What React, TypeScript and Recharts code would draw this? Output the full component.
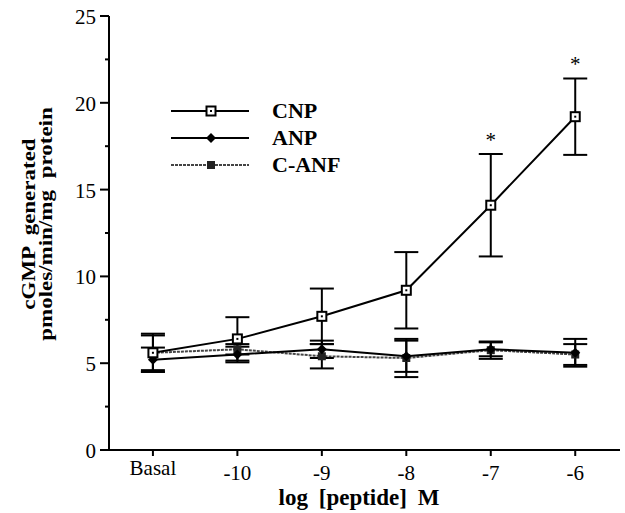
import { LineChart, Line, XAxis, YAxis, ErrorBar, Legend, Label } from 'recharts';

const categories = ['Basal', '-10', '-9', '-8', '-7', '-6'];
const cnp = [5.6, 6.4, 7.7, 9.2, 14.1, 19.2];
const cnpErr = [1.1, 1.25, 1.6, 2.2, 2.95, 2.2];
const anp = [5.2, 5.5, 5.8, 5.4, 5.8, 5.6];
const anpErr = [0.7, 0.45, 0.5, 0.9, 0.4, 0.8];
const canf = [5.6, 5.8, 5.4, 5.3, 5.75, 5.5];
const canfErr = [1.0, 0.3, 0.7, 1.1, 0.5, 0.6];
const significant = [false, false, false, false, true, true];
const yTicks = [0, 2.5, 5, 7.5, 10, 12.5, 15, 17.5, 20, 22.5, 25];

const FONT = "'Liberation Serif', 'Times New Roman', serif";

const data = categories.map((c, i) => ({
  idx: i,
  cnp: cnp[i],
  cnpErr: cnpErr[i],
  anp: anp[i],
  anpErr: anpErr[i],
  canf: canf[i],
  canfErr: canfErr[i],
  star: significant[i] ? cnp[i] + cnpErr[i] + 1.0 : null,
}));

function CnpDot({ cx, cy }: any) {
  return (
    <g>
      <rect x={cx - 4.5} y={cy - 4.5} width={9} height={9} fill="#fff" stroke="#000" strokeWidth={2} />
      <rect x={cx - 1} y={cy - 1} width={2} height={2} fill="#000" />
    </g>
  );
}

function AnpDot({ cx, cy }: any) {
  return <path d={`M${cx},${cy - 5} L${cx + 5},${cy} L${cx},${cy + 5} L${cx - 5},${cy} Z`} fill="#000" />;
}

function CanfDot({ cx, cy }: any) {
  return <rect x={cx - 4} y={cy - 4} width={8} height={8} fill="#222" />;
}

function StarDot({ cx, cy, value }: any) {
  if (value == null || cy == null) return null;
  return (
    <text x={cx} y={cy + 10} textAnchor="middle" fontSize={21} fontFamily={FONT} fill="#000">
      *
    </text>
  );
}

function YTick({ x, y, payload }: any) {
  const major = payload.value % 5 === 0;
  return (
    <g>
      <line x1={x - (major ? 9 : 4)} x2={x} y1={y} y2={y} stroke="#000" strokeWidth={2} />
      {major && (
        <text x={x - 13} y={y + 8} textAnchor="end" fontSize={21} fontFamily={FONT} fill="#000">
          {payload.value}
        </text>
      )}
    </g>
  );
}

function XTick({ x, y, payload }: any) {
  const i = payload.value;
  return (
    <g>
      <line x1={x} x2={x} y1={y} y2={y + 6} stroke="#000" strokeWidth={2} />
      <text x={x} y={y + (i === 0 ? 25 : 30)} textAnchor="middle" fontSize={21} fontFamily={FONT} fill="#000">
        {categories[i]}
      </text>
    </g>
  );
}

function YTitle() {
  return (
    <g fontFamily={FONT} fontWeight="bold" fontSize={23} fill="#000">
      <text transform="translate(35,224) rotate(-90) scale(1,0.8)" textAnchor="middle" style={{ wordSpacing: 6 }}>
        cGMP generated
      </text>
      <text transform="translate(52,224) rotate(-90) scale(1,0.8)" textAnchor="middle" style={{ wordSpacing: 6 }}>
        pmoles/min/mg protein
      </text>
    </g>
  );
}

function LegendBox() {
  const rows = [
    { label: 'CNP', Dot: CnpDot, stroke: '#000', dash: undefined },
    { label: 'ANP', Dot: AnpDot, stroke: '#000', dash: undefined },
    { label: 'C-ANF', Dot: CanfDot, stroke: '#444', dash: '3 1' },
  ];
  return (
    <svg width={200} height={80} style={{ display: 'block' }}>
      {rows.map((r, i) => {
        const y = 12 + i * 27;
        return (
          <g key={r.label}>
            <line x1={6} x2={84} y1={y} y2={y} stroke={r.stroke} strokeWidth={2} strokeDasharray={r.dash} />
            <r.Dot cx={46} cy={y} />
            <text x={107} y={y + 7} fontSize={22} fontWeight="bold" fontFamily={FONT} fill="#000">
              {r.label}
            </text>
          </g>
        );
      })}
    </svg>
  );
}

export default function App() {
  return (
    <div style={{ position: 'absolute', left: 0, top: 0, background: '#fff' }}>
      <LineChart width={625} height={513} data={data} margin={{ top: 16, right: 5, left: 0, bottom: 0 }}>
        <XAxis
          type="number"
          dataKey="idx"
          domain={[-0.52, 5.53]}
          ticks={[0, 1, 2, 3, 4, 5]}
          allowDataOverflow
          height={63}
          tickSize={0}
          tickMargin={0}
          tickLine={false}
          axisLine={{ stroke: '#000', strokeWidth: 2 }}
          tick={<XTick />}
        >
          <Label
            content={() => (
              <text
                x={359}
                y={505}
                textAnchor="middle"
                fontSize={23}
                fontWeight="bold"
                fontFamily={FONT}
                fill="#000"
                style={{ wordSpacing: 5 }}
              >
                log [peptide] M
              </text>
            )}
          />
        </XAxis>
        <YAxis
          domain={[0, 25]}
          ticks={yTicks}
          width={109}
          interval={0}
          tickSize={0}
          tickMargin={0}
          tickLine={false}
          axisLine={{ stroke: '#000', strokeWidth: 2 }}
          tick={<YTick />}
        >
          <Label content={() => <YTitle />} />
        </YAxis>
        <Legend
          layout="vertical"
          align="center"
          verticalAlign="middle"
          content={() => <LegendBox />}
          wrapperStyle={{ left: 165, top: 99, width: 200 }}
        />
        <Line
          dataKey="canf"
          name="C-ANF"
          stroke="#444"
          strokeWidth={2}
          strokeDasharray="3 1"
          dot={<CanfDot />}
          isAnimationActive={false}
        >
          <ErrorBar dataKey="canfErr" direction="y" width={12} stroke="#000" strokeWidth={2} />
        </Line>
        <Line dataKey="anp" name="ANP" stroke="#000" strokeWidth={2} dot={<AnpDot />} isAnimationActive={false}>
          <ErrorBar dataKey="anpErr" direction="y" width={12} stroke="#000" strokeWidth={2} />
        </Line>
        <Line dataKey="cnp" name="CNP" stroke="#000" strokeWidth={2} dot={<CnpDot />} isAnimationActive={false}>
          <ErrorBar dataKey="cnpErr" direction="y" width={12} stroke="#000" strokeWidth={2} />
        </Line>
        <Line
          dataKey="star"
          stroke="none"
          dot={<StarDot />}
          activeDot={false}
          legendType="none"
          isAnimationActive={false}
        />
      </LineChart>
    </div>
  );
}
